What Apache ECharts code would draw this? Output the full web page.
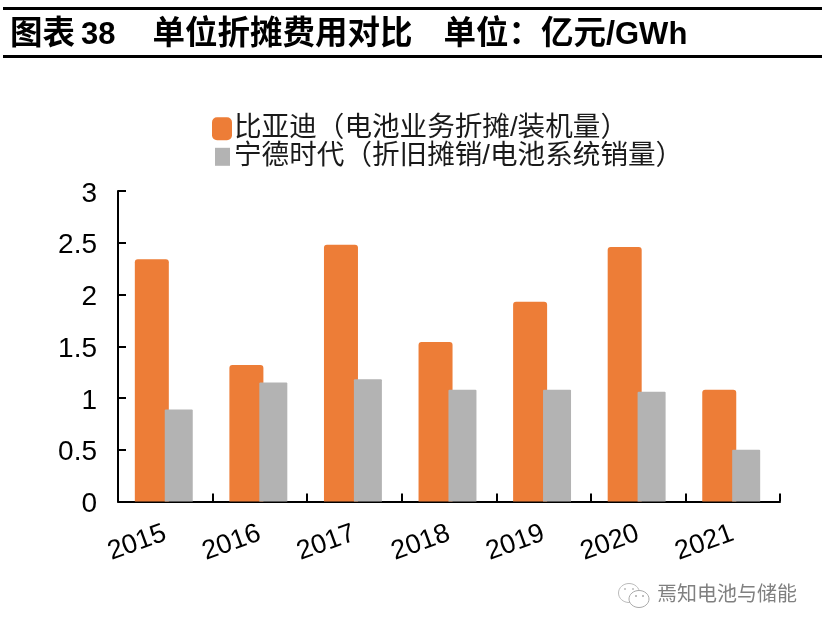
<!DOCTYPE html>
<html><head><meta charset="utf-8">
<style>html,body{margin:0;padding:0;background:#fff}#c{width:822px;height:632px}</style>
<script src="https://cdn.jsdelivr.net/npm/echarts@6/dist/echarts.min.js"></script>
</head><body><div id="c"></div>
<script>
const categories = ['2015','2016','2017','2018','2019','2020','2021'];
const byd = [2.34,1.32,2.48,1.54,1.93,2.46,1.08];
const catl = [0.89,1.15,1.18,1.08,1.08,1.06,0.50];
const seriesNames = ['比亚迪（电池业务折摊/装机量）','宁德时代（折旧摊销/电池系统销量）'];
const yTicks = {min:0,max:3,interval:0.5};
const FF = '"Liberation Sans","Noto Sans CJK SC",sans-serif';
const chart = echarts.init(document.getElementById('c'),null,{renderer:'canvas'});
const titleCjk = {fontFamily:FF,fontSize:32.5,fontWeight:'bold',color:'#000'};
const titleLat = {fontFamily:FF,fontSize:31,fontWeight:'bold',color:'#000'};
chart.setOption({
  animation:false,
  backgroundColor:'#fff',
  title:{
    left:10,top:19,padding:0,
    text:'{a|图表}{n|38}{s|单位折摊费用对比}{u|单位：亿元/}{b|GWh}',
    textStyle:{rich:{
      a:titleCjk,
      n:Object.assign({},titleLat,{padding:[0,0,0,6]}),
      s:Object.assign({},titleCjk,{padding:[0,0,0,37]}),
      u:Object.assign({},titleCjk,{padding:[0,0,0,31]}),
      b:titleLat
    }}
  },
  legend:[
    {left:212,top:115,padding:0,itemWidth:20,itemHeight:23,itemGap:0,icon:'roundRect',
     data:[seriesNames[0]],textStyle:{fontFamily:FF,fontSize:27.6,color:'#1a1a1a',padding:[0,0,0,-3]}},
    {left:215,top:143,padding:0,itemWidth:15,itemHeight:18,itemGap:0,icon:'rect',
     data:[seriesNames[1]],textStyle:{fontFamily:FF,fontSize:27.6,color:'#1a1a1a',padding:[0,0,0,-1]}}
  ],
  grid:[
    {left:118,top:191,width:662,height:310.5},
    {left:116.5,top:191,width:662,height:310.5}
  ],
  xAxis:[
    {type:'category',gridIndex:0,data:categories,boundaryGap:true,
     axisLine:{lineStyle:{color:'#000',width:2}},
     axisTick:{show:true,inside:true,length:8,lineStyle:{color:'#000',width:2}},
     axisLabel:{rotate:20,margin:31,fontFamily:FF,fontSize:27,color:'#000',interval:0},
     splitLine:{show:false}},
    {type:'category',gridIndex:1,data:categories,show:false}
  ],
  yAxis:[
    {type:'value',gridIndex:0,min:yTicks.min,max:yTicks.max,interval:yTicks.interval,
     axisLine:{show:true,lineStyle:{color:'#000',width:2}},
     axisTick:{show:true,inside:true,length:8,lineStyle:{color:'#000',width:2}},
     axisLabel:{margin:21,verticalAlign:'top',lineHeight:6,fontFamily:FF,fontSize:28,color:'#000'},
     splitLine:{show:false}},
    {type:'value',gridIndex:1,min:yTicks.min,max:yTicks.max,interval:yTicks.interval,show:false}
  ],
  series:[
    {name:seriesNames[0],type:'bar',xAxisIndex:1,yAxisIndex:1,data:byd,barWidth:34,barGap:'-12%',z:2,
     itemStyle:{color:'#ED7D37',borderRadius:[3,3,0,0]}},
    {name:seriesNames[1],type:'bar',xAxisIndex:1,yAxisIndex:1,data:catl,barWidth:28,z:3,
     itemStyle:{color:'#B3B3B3',borderRadius:[1,1,0,0]}}
  ],
  graphic:[
    {type:'rect',shape:{x:3,y:7,width:819,height:3},style:{fill:'#000'},silent:true},
    {type:'rect',shape:{x:3,y:55,width:819,height:3},style:{fill:'#000'},silent:true},
    {type:'text',left:657,top:585,style:{text:'焉知电池与储能',fontFamily:FF,fontSize:20,fill:'#808080'},silent:true},
    {type:'ellipse',shape:{cx:629,cy:593,rx:10.5,ry:9.5},style:{fill:'#fff',stroke:'#bbb',lineWidth:1}},
    {type:'ellipse',shape:{cx:639,cy:599,rx:10,ry:8.5},style:{fill:'#fff',stroke:'#aaa',lineWidth:1}},
    {type:'circle',shape:{cx:625,cy:589,r:1},style:{fill:'#bbb'}},
    {type:'circle',shape:{cx:633,cy:589,r:1},style:{fill:'#bbb'}},
    {type:'circle',shape:{cx:636,cy:596,r:1},style:{fill:'#aaa'}},
    {type:'circle',shape:{cx:643,cy:596,r:1},style:{fill:'#aaa'}}
  ]
});
</script></body></html>
